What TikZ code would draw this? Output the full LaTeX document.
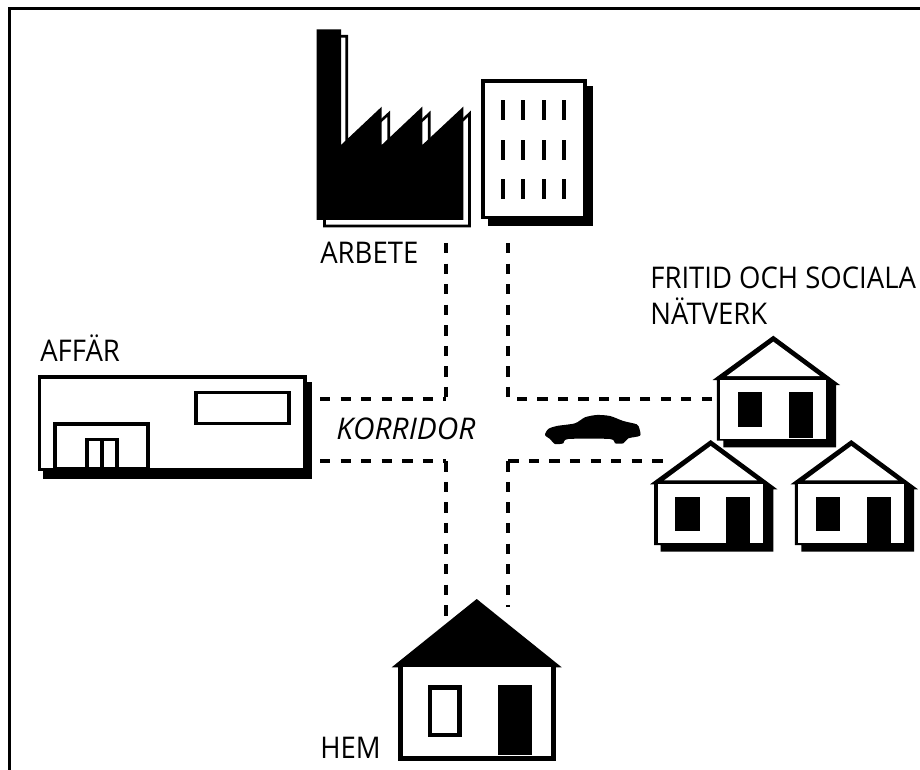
\documentclass[tikz,border=0pt]{standalone}
\usepackage{fontspec}
\setmainfont[FakeStretch=0.92,ItalicFeatures={FakeStretch=1}]{Open Sans}
\begin{document}
\begin{tikzpicture}[
    x=0.02cm,
    y=-0.02cm,
    label/.style={
        anchor=base west,
        inner sep=0pt,
        align=left,
        font=\fontsize{17}{21}\selectfont
    },
    frameline/.style={
        draw=black,
        line width=2pt
    },
    wall/.style={
        draw=black,
        fill=white,
        line width=2.1pt
    },
    road/.style={
        draw=black,
        line width=2.3pt,
        dash pattern=on 5.9pt off 5.8pt
    },
    villa/.pic={
        \fill[black] (0,0) -- (66.7,49.3) -- (62.7,49.3) -- (62.7,111.7) -- (-50,111.7)
            -- (-50,105) -- (-56.5,105) -- (-56.5,44.3) -- (-60.7,44.3) -- cycle;
        \fill[white] (0,6) -- (46.5,40.3) -- (-46.5,40.3) -- cycle;
        \fill[white] (-53,44.3) rectangle (52.7,103.3);
        \fill[black] (-35.7,56.7) rectangle (-11,91.3);
        \fill[black] (15.3,56.7) rectangle (39.7,102.7);
    }
]
\useasboundingbox (0,0) rectangle (920,770);

% frame
\draw[frameline] (920,8.7) -- (9.7,8.7) -- (9.7,770);

% factory
\fill[white, draw=black, line width=1.5pt] (323.7,36.3) -- (346.8,36.3) -- (346.8,152) -- (388.7,113.7)
    -- (388.7,152) -- (429.3,113.7) -- (429.3,152) -- (469.5,113.7) -- (469.5,226) -- (324.5,226) -- cycle;
\fill[black] (316.7,29.3) -- (341,29.3) -- (341,145) -- (381.7,106.7) -- (381.7,145)
    -- (422.3,106.7) -- (422.3,145) -- (463.3,106.7) -- (463.3,220) -- (316.7,220) -- cycle;

% office
\fill[black] (488,86) rectangle (593,225.7);
\draw[wall] (482.8,80.8) rectangle (585,217.5);
\foreach \col in {502.7,523.3,543.7,564}
    \foreach \row in {100,140,179}
        \fill[black] (\col-2,\row) rectangle (\col+2,\row+20);

% shop
\fill[black] (42.7,382) rectangle (311.7,479);
\draw[wall] (39.5,376.9) rectangle (305,469.5);
\draw[wall] (195.8,392.5) rectangle (289.3,423.5);
\draw[wall] (55,423.8) rectangle (148.3,469);
\draw[wall] (86.8,439.4) rectangle (117.3,469);
\draw[black, line width=2.1pt] (101.7,439.4) -- (101.7,469);
\fill[black] (42.7,468.3) rectangle (311.7,479);

% friends
\pic at (773.3,335.7) {villa};
\pic at (710.7,440) {villa};
\pic at (851.3,440) {villa};

% home
\fill[black] (476.7,599) -- (561.7,667.3) -- (391.7,667.3) -- cycle;
\fill[black] (398.3,667) rectangle (555.7,761);
\fill[white] (403.3,667.3) rectangle (550.7,756);
\draw[wall, line width=2.5pt] (429.9,687.5) rectangle (459.5,735.1);
\fill[black] (497.7,685.3) rectangle (532.3,755.3);

% car
\fill[black] plot[smooth cycle, tension=0.45] coordinates {
    (545,435) (548.3,429) (556.7,426) (575,423.3) (585,417.3) (596.7,415) (610,416)
    (623.3,421) (636.7,424.3) (639.3,428.3) (640,435.7) (628.3,438.3) (623.3,443.3)
    (615,443.3) (610,439) (568.3,439) (563.3,443.3) (555,444) (550,439)};

% corridor
\coordinate (workleft) at (445.7,243);
\coordinate (workright) at (508.3,243);
\coordinate (cornerwork) at (445.7,399.3);
\coordinate (cornerfriends) at (508.3,399.3);
\coordinate (cornershop) at (445.7,461.3);
\coordinate (cornerlow) at (508.3,461.3);
\coordinate (shoptop) at (320,399.3);
\coordinate (shopbottom) at (320,461.3);
\coordinate (friendstop) at (712,399.3);
\coordinate (friendsbottom) at (665,461.3);
\coordinate (homeleft) at (445.7,618);
\coordinate (homeright) at (508.3,607);

\draw[road] (workleft) -- (cornerwork);
\draw[road] (workright) -- (cornerfriends);
\draw[road] (shoptop) -- (cornerwork);
\draw[road] (shopbottom) -- (cornershop);
\draw[road] (cornershop) -- (homeleft);
\draw[road] (cornerlow) -- (homeright);
\draw[road] (friendstop) -- (cornerfriends);
\draw[road] (cornerlow) -- (friendsbottom);

% labels
\node[label] (arbete) at (320,263.3) {ARBETE};
\node[label] (affar) at (40,361.7) {AFFÄR};
\node[label, font=\fontsize{17}{21}\selectfont\itshape] (korridor) at (336,439) {KORRIDOR};
\node[label] (hem) at (320,758) {HEM};
\node[label] (fritid) at (650,325) {FRITID OCH SOCIALA\\NÄTVERK};
\end{tikzpicture}
\end{document}
